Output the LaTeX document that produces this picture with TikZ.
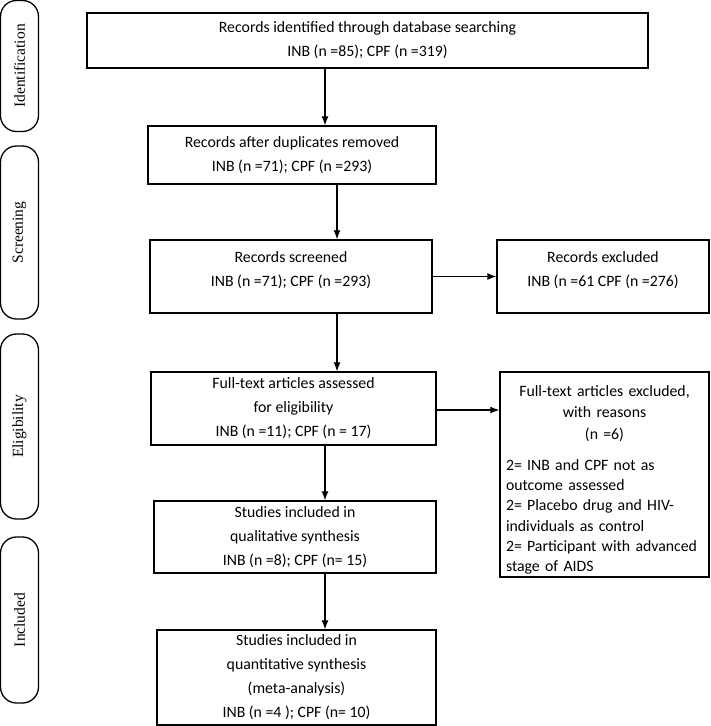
\documentclass[tikz,border=0pt]{standalone}
\usepackage{fontspec}
\newfontfamily\boxfont{Carlito}
\newfontfamily\stagefont{Liberation Serif}
\usetikzlibrary{arrows.meta,calc}

\begin{document}
\begin{tikzpicture}[x=1pt,y=-1pt]
\tikzset{
  box/.style={draw,line width=1.5pt,align=center,inner sep=2pt,
    font=\boxfont\fontsize{15.8}{24}\selectfont},
  stage/.style={draw,line width=1.3pt,rounded corners=16pt,rotate=90,
    minimum height=38,inner sep=0pt,font=\stagefont\fontsize{15.5}{17}\selectfont},
  arr/.style={-{Latex[length=9pt,width=7pt]},line width=1.1pt}
}
\useasboundingbox (0,0) rectangle (710,726);

% phases on the left
\node[stage,minimum width=131] (identification) at (19.5,66) {Identification};
\node[stage,minimum width=173] (screening) at (19.5,232.5) {Screening};
\node[stage,minimum width=185] (eligibility) at (19.5,426.5) {Eligibility};
\node[stage,minimum width=166] (included) at (19.5,620) {Included};

% main column
\node[box,minimum width=561,minimum height=55] (ident) at (367.5,40.5)
  {Records identified through database searching\\INB (n =85); CPF (n =319)};
\node[box,minimum width=288,minimum height=58] (dup) at (292,155)
  {Records after duplicates removed\\INB (n =71); CPF (n =293)};
\node[box,minimum width=282,minimum height=73,text depth=15pt] (screen) at (291,276.5)
  {Records screened\\INB (n =71); CPF (n =293)};
\node[box,minimum width=285,minimum height=73] (full) at (293.5,408.5)
  {Full-text articles assessed\\for eligibility\\INB (n =11); CPF (n = 17)};
\node[box,minimum width=282,minimum height=72] (qual) at (295,537)
  {Studies included in\\qualitative synthesis\\INB (n =8); CPF (n= 15)};
\node[box,minimum width=279,minimum height=95] (quant) at (296.5,677.5)
  {Studies included in\\quantitative synthesis\\(meta-analysis)\\INB (n =4 ); CPF (n= 10)};

% exclusions
\node[box,minimum width=212,minimum height=73,text depth=15pt] (excl) at (603,276.5)
  {Records excluded\\INB (n =61 CPF (n =276)};
\node[box,minimum width=209,minimum height=205,text width=197,align=left,
  inner ysep=0pt,font=\boxfont\fontsize{15.8}{20.3}\selectfont] (fullexcl) at (604.5,474.5)
  {{\centering\rule{0pt}{22pt}Full-text articles excluded,\\[1pt]with reasons\\[1pt](n =6)\par}
   \vspace{11pt}
   2= INB and CPF not as\\outcome assessed\\
   2= Placebo drug and HIV-\\individuals as control\\
   2= Participant with advanced\\stage of AIDS};

% arrows
\coordinate (colA) at (325,0);
\coordinate (colB) at (337,0);
\draw[arr] (ident.south -| colA) -- (dup.north -| colA);
\draw[arr] (dup.south -| colB) -- (screen.north -| colB);
\draw[arr] (screen.south -| colB) -- (full.north -| colB);
\draw[arr] (full.south -| colA) -- (qual.north -| colA);
\draw[arr] (qual.south -| colA) -- (quant.north -| colA);
\draw[arr] (screen.east) -- (excl.west);
\draw[arr] ([yshift=-1.5pt]full.east) -- ([yshift=-1.5pt]full.east -| fullexcl.west);
\end{tikzpicture}
\end{document}
